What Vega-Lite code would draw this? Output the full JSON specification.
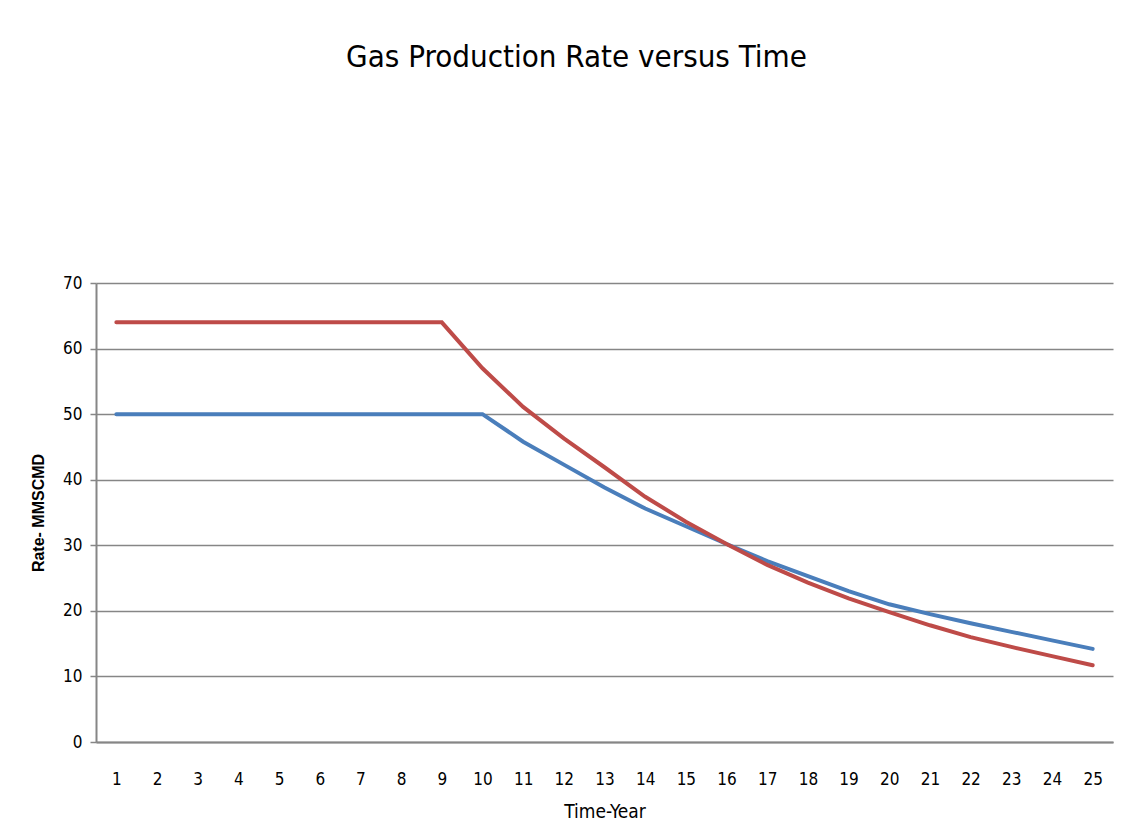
{
  "$schema": "https://vega.github.io/schema/vega-lite/v6.json",
  "width": 1017,
  "height": 459,
  "autosize": {"type": "none"},
  "padding": {"left": 96, "top": 283, "right": 17, "bottom": 86},
  "background": "white",
  "title": {
    "text": "Gas Production Rate versus Time",
    "font": "DejaVu Sans Condensed, Liberation Sans, sans-serif",
    "fontSize": 31,
    "fontWeight": 300,
    "color": "#000000",
    "anchor": "middle",
    "frame": "group",
    "dx": -28,
    "offset": 200
  },
  "data": {
    "values": [
      {"year": 1, "series": "A", "rate": 50}, {"year": 2, "series": "A", "rate": 50}, {"year": 3, "series": "A", "rate": 50},
      {"year": 4, "series": "A", "rate": 50}, {"year": 5, "series": "A", "rate": 50}, {"year": 6, "series": "A", "rate": 50},
      {"year": 7, "series": "A", "rate": 50}, {"year": 8, "series": "A", "rate": 50}, {"year": 9, "series": "A", "rate": 50},
      {"year": 10, "series": "A", "rate": 50}, {"year": 11, "series": "A", "rate": 45.8}, {"year": 12, "series": "A", "rate": 42.3},
      {"year": 13, "series": "A", "rate": 38.8}, {"year": 14, "series": "A", "rate": 35.6}, {"year": 15, "series": "A", "rate": 32.9},
      {"year": 16, "series": "A", "rate": 30.2}, {"year": 17, "series": "A", "rate": 27.6}, {"year": 18, "series": "A", "rate": 25.3},
      {"year": 19, "series": "A", "rate": 23.0}, {"year": 20, "series": "A", "rate": 21.0}, {"year": 21, "series": "A", "rate": 19.5},
      {"year": 22, "series": "A", "rate": 18.1}, {"year": 23, "series": "A", "rate": 16.8}, {"year": 24, "series": "A", "rate": 15.5},
      {"year": 25, "series": "A", "rate": 14.2},
      {"year": 1, "series": "B", "rate": 64}, {"year": 2, "series": "B", "rate": 64}, {"year": 3, "series": "B", "rate": 64},
      {"year": 4, "series": "B", "rate": 64}, {"year": 5, "series": "B", "rate": 64}, {"year": 6, "series": "B", "rate": 64},
      {"year": 7, "series": "B", "rate": 64}, {"year": 8, "series": "B", "rate": 64}, {"year": 9, "series": "B", "rate": 64},
      {"year": 10, "series": "B", "rate": 57.0}, {"year": 11, "series": "B", "rate": 51.1}, {"year": 12, "series": "B", "rate": 46.3},
      {"year": 13, "series": "B", "rate": 41.9}, {"year": 14, "series": "B", "rate": 37.4}, {"year": 15, "series": "B", "rate": 33.6},
      {"year": 16, "series": "B", "rate": 30.2}, {"year": 17, "series": "B", "rate": 27.0}, {"year": 18, "series": "B", "rate": 24.3},
      {"year": 19, "series": "B", "rate": 21.9}, {"year": 20, "series": "B", "rate": 19.8}, {"year": 21, "series": "B", "rate": 17.8},
      {"year": 22, "series": "B", "rate": 16.0}, {"year": 23, "series": "B", "rate": 14.5}, {"year": 24, "series": "B", "rate": 13.1},
      {"year": 25, "series": "B", "rate": 11.7}
    ]
  },
  "mark": {"type": "line", "strokeWidth": 4, "strokeCap": "round"},
  "encoding": {
    "x": {
      "field": "year",
      "type": "ordinal",
      "sort": "ascending",
      "scale": {"padding": 0.5},
      "axis": {
        "title": "Time-Year",
        "labelAngle": 0,
        "labelFont": "DejaVu Sans Condensed, Liberation Sans, sans-serif",
        "labelFontSize": 17,
        "labelColor": "#000000",
        "labelPadding": 29,
        "ticks": false,
        "domainColor": "#868686",
        "domainWidth": 2,
        "titleFont": "DejaVu Sans Condensed, Liberation Sans, sans-serif",
        "titleFontSize": 19,
        "titleFontWeight": "normal",
        "titleColor": "#000000",
        "titlePadding": 15,
        "grid": false
      }
    },
    "y": {
      "field": "rate",
      "type": "quantitative",
      "scale": {"domain": [0, 70]},
      "axis": {
        "title": "Rate- MMSCMD",
        "values": [0, 10, 20, 30, 40, 50, 60, 70],
        "labelFont": "DejaVu Sans Condensed, Liberation Sans, sans-serif",
        "labelFontSize": 17,
        "labelColor": "#000000",
        "labelPadding": 8,
        "tickSize": 6,
        "tickColor": "#868686",
        "tickWidth": 1.5,
        "domainColor": "#868686",
        "domainWidth": 2,
        "grid": true,
        "gridColor": "#868686",
        "gridWidth": 1.5,
        "titleFont": "Liberation Sans",
        "titleFontSize": 16,
        "titleFontWeight": "bold",
        "titleColor": "#000000",
        "titlePadding": 16
      }
    },
    "color": {
      "field": "series",
      "type": "nominal",
      "scale": {"domain": ["A", "B"], "range": ["#4A7EBB", "#BE4B48"]},
      "legend": null
    }
  },
  "config": {
    "view": {"stroke": null}
  }
}
